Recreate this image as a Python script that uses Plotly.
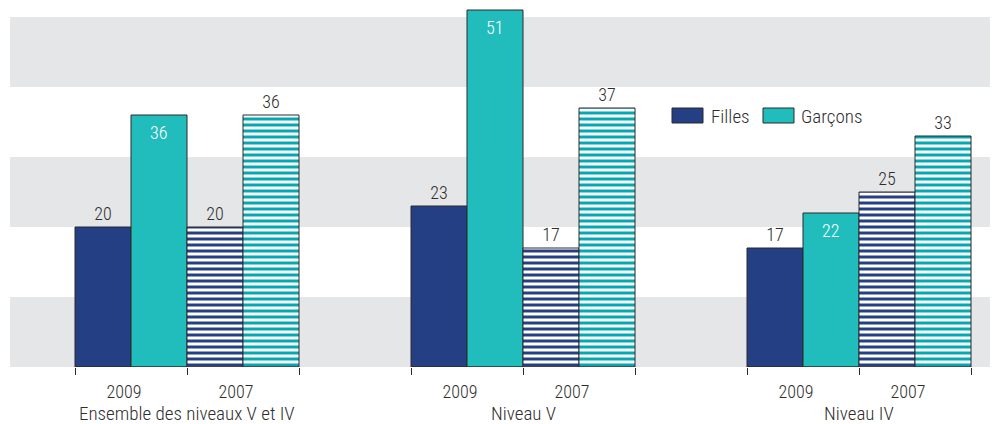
import plotly.graph_objects as go

# ---- data ----
groups = ["Ensemble des niveaux V et IV", "Niveau V", "Niveau IV"]
years = ["2009", "2007"]
filles_2009 = [20, 23, 17]
garcons_2009 = [36, 51, 22]
filles_2007 = [20, 17, 25]
garcons_2007 = [36, 37, 33]
series_names = ["Filles", "Garçons"]

# ---- style ----
NAVY = "#243F84"
TEAL = "#21BDBC"
TEAL_STRIPE = "#03A8B5"
BAND = "#E5E6E8"
TXT = "#2e2e2e"
EDGE = "#2b2b2b"
FONT = "Roboto Condensed, DejaVu Sans Condensed, Liberation Sans Narrow, Arial Narrow, Roboto, sans-serif"
WEIGHT = 300

# page has an 8px body margin: figure is drawn 8px right/down
OFF = 8
W, H = 998 - OFF, 424 - OFF
ML, MR, MT, MB = 10 - OFF, 0, 0, 57
SLOTS_PER_GROUP = 6   # 4 bars + gap of 2
X0 = -1.1607
X1 = 16.482
PX_PER_UNIT = 7.0
YMAX = (H - MT - MB) / PX_PER_UNIT

def xpos(g, s):
    return g * SLOTS_PER_GROUP + s + 0.5

fig = go.Figure()

bar_specs = [
    (filles_2009, 0, NAVY, None, "outside"),
    (garcons_2009, 1, TEAL, None, "none"),
    (filles_2007, 2, NAVY, NAVY, "outside"),
    (garcons_2007, 3, TEAL, TEAL_STRIPE, "outside"),
]
for vals, s, col, stripe, tpos in bar_specs:
    xs = [xpos(g, s) for g in range(len(groups))]
    if stripe is None:
        marker = dict(color=col, line=dict(color=EDGE, width=1))
    else:
        marker = dict(color="white", line=dict(color=EDGE, width=1),
                      pattern=dict(shape="-", fgcolor=stripe, bgcolor="white",
                                   fgopacity=1, size=6, solidity=0.5,
                                   fillmode="overlay"))
    fig.add_trace(go.Bar(
        x=xs, y=vals, width=1, marker=marker, showlegend=False,
        text=[str(v) for v in vals] if tpos == "outside" else None,
        textposition=tpos if tpos == "outside" else None,
        textfont=dict(family=FONT, size=18, color=TXT, weight=WEIGHT),
        cliponaxis=False, hoverinfo="skip",
    ))

annotations = []
# white inside labels for Garçons 2009
for g, v in enumerate(garcons_2009):
    annotations.append(dict(x=xpos(g, 1), y=v, xref="x", yref="y", text=str(v),
                            showarrow=False, yanchor="top", yshift=-5,
                            font=dict(family=FONT, size=18, color="white", weight=WEIGHT)))
# group labels
for g, name in enumerate(groups):
    annotations.append(dict(x=g * SLOTS_PER_GROUP + 2, y=0, xref="x", yref="paper",
                            text=name, showarrow=False, yanchor="top", yshift=-33,
                            font=dict(family=FONT, size=19, color=TXT, weight=WEIGHT)))

shapes = []
# background bands
for lo in (0, 20, 40):
    shapes.append(dict(type="rect", xref="paper", yref="y", x0=0, x1=1, y0=lo, y1=lo + 10,
                       fillcolor=BAND, line=dict(width=0), layer="below"))
# per-group axis line
for g in range(len(groups)):
    shapes.append(dict(type="line", xref="x", yref="y", x0=g * SLOTS_PER_GROUP,
                       x1=g * SLOTS_PER_GROUP + 4, y0=0, y1=0,
                       line=dict(color=EDGE, width=1)))

# manual legend (positions given in page pixels)
pw = W - ML - MR
ph = H - MT - MB
def px2x(px):
    return (px - OFF - ML) / pw
def px2y(py):
    return (H - MB - (py - OFF)) / ph

legend_items = [(series_names[0], NAVY, 672, 709), (series_names[1], TEAL, 763, 799)]
for name, col, sx, tx in legend_items:
    shapes.append(dict(type="rect", xref="paper", yref="paper",
                       x0=px2x(sx), x1=px2x(sx + 31), y0=px2y(123), y1=px2y(108),
                       fillcolor=col, line=dict(color=EDGE, width=1)))
    annotations.append(dict(x=px2x(tx), y=px2y(116), xref="paper", yref="paper",
                            text=name, showarrow=False, xanchor="left", yanchor="middle",
                            font=dict(family=FONT, size=19, color=TXT, weight=WEIGHT)))

tickvals = []
ticktext = []
minor_vals = []
for g in range(len(groups)):
    tickvals += [g * SLOTS_PER_GROUP + 1, g * SLOTS_PER_GROUP + 3]
    ticktext += years
    minor_vals += [g * SLOTS_PER_GROUP + k for k in (0, 2, 4)]

fig.update_layout(
    width=W, height=H,
    margin=dict(l=ML, r=MR, t=MT, b=MB),
    paper_bgcolor="white", plot_bgcolor="white",
    barmode="overlay",
    showlegend=False,
    shapes=shapes,
    annotations=annotations,
    font=dict(family=FONT, color=TXT, weight=WEIGHT),
    xaxis=dict(range=[X0, X1], tickmode="array", tickvals=tickvals, ticktext=ticktext,
               ticks="", showgrid=False, zeroline=False, showline=False,
               tickfont=dict(family=FONT, size=18, color=TXT, weight=WEIGHT),
               ticklabelshift=-7, ticklabelstandoff=12,
               minor=dict(tickmode="array", tickvals=minor_vals, ticks="outside",
                          ticklen=7, tickcolor=EDGE, tickwidth=1, showgrid=False)),
    yaxis=dict(range=[0, YMAX], showticklabels=False, ticks="", showgrid=False,
               zeroline=False, showline=False),
)

fig.write_html("out.html")
